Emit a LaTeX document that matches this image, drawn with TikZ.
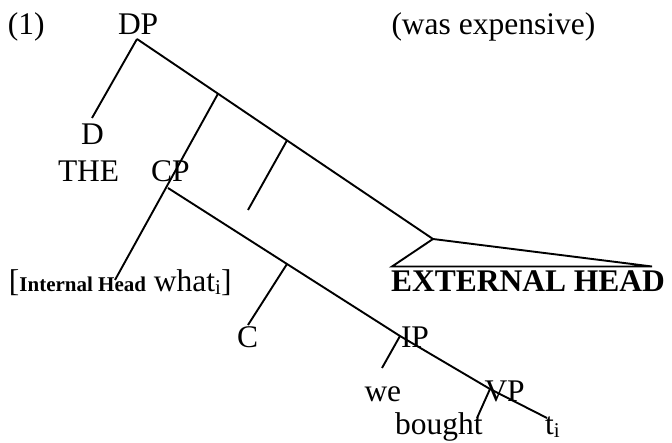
\documentclass[tikz,border=0pt]{standalone}
\usepackage{fontspec}
\setmainfont{Liberation Serif}
\begin{document}
\begin{tikzpicture}[x=1pt,y=-1pt,
  lbl/.style={anchor=base west,inner sep=0pt,outer sep=0pt,font=\fontsize{31.5}{36}\selectfont},
  edge/.style={line width=1.9pt,line cap=butt,line join=miter}]
\useasboundingbox (0,0) rectangle (672,443);
\newcommand{\smallbf}{\fontsize{21}{24}\selectfont\bfseries}
\newcommand{\subi}{\raisebox{-3pt}{\fontsize{21}{24}\selectfont i}}
% texts
\node[lbl] (ex) at (8,35) {(1)};
\node[lbl] (dp) at (118,35) {DP};
\node[lbl] (pred) at (391.5,35) {(was expensive)};
\node[lbl] (d) at (81,145) {D};
\node[lbl] (the) at (58,182) {THE};
\node[lbl] (cp) at (151,182) {CP};
\node[lbl] (wh) at (9,292) {[{\smallbf Internal Head} what\subi]};
\node[lbl] (c) at (237,348) {C};
\node[lbl] (ip) at (401,348) {IP};
\node[lbl,font=\fontsize{31.5}{36}\selectfont\bfseries] (eh) at (391,292) {EXTERNAL HEAD};
\node[lbl] (we) at (364.5,402) {we};
\node[lbl] (vp) at (484.5,402) {VP};
\node[lbl] (bought) at (395,434.5) {bought};
\node[lbl] (ti) at (545,434.5) {t\subi};
% tree points
\coordinate (dptop) at (137,39);
\coordinate (dend) at (92,118);
\coordinate (b1) at (218,93.7);
\coordinate (b2) at (287,140.4);
\coordinate (apex) at (433,239);
\coordinate (whend) at (115,280);
\coordinate (b2end) at (248,210);
\coordinate (cptop) at (168,188);
\coordinate (cbr) at (287,264);
\coordinate (cend) at (248,325);
\coordinate (ipbr) at (400,336);
\coordinate (ipend) at (382,368);
\coordinate (vpbr) at (490,389);
\coordinate (vpend) at (477,418);
\coordinate (tend) at (547,418);
\coordinate (triL) at (392,266.5);
\coordinate (triR) at (652,266.5);
% connectors
\draw[edge] (dptop) -- (dend);
\draw[edge] (dptop) -- (b1) -- (b2) -- (apex);
\draw[edge] (b1) -- (whend);
\draw[edge] (b2) -- (b2end);
\draw[edge] (cptop) -- (cbr) -- (ipbr) -- (vpbr) -- (tend);
\draw[edge] (cbr) -- (cend);
\draw[edge] (ipbr) -- (ipend);
\draw[edge] (vpbr) -- (vpend);
\draw[edge] (triL) -- (apex) -- (triR) -- cycle;
\end{tikzpicture}
\end{document}
